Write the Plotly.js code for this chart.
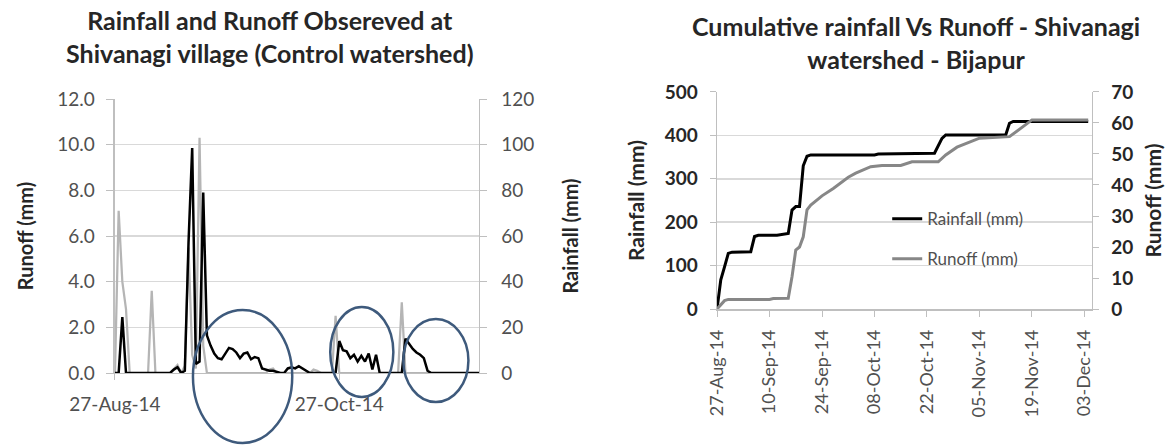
<!DOCTYPE html>
<html>
<head>
<meta charset="utf-8">
<script src="https://cdn.plot.ly/plotly-3.0.1.min.js"></script>
<style>
  html, body { margin: 0; padding: 0; background: #ffffff; }
  #chart { width: 1172px; height: 445px; }
</style>
</head>
<body>
<div id="chart"></div>
<script>
// ---- Daily observations, Shivanagi village (control watershed) ----
const runoffDates = [
  '2014-08-27','2014-08-28','2014-08-29','2014-08-30','2014-09-11','2014-09-12','2014-09-13','2014-09-14',
  '2014-09-15','2014-09-16','2014-09-17','2014-09-18','2014-09-19','2014-09-20','2014-09-21','2014-09-22',
  '2014-09-23','2014-09-24','2014-09-25','2014-09-26','2014-09-27','2014-09-28','2014-09-29','2014-09-30',
  '2014-10-01','2014-10-02','2014-10-03','2014-10-04','2014-10-05','2014-10-06','2014-10-07','2014-10-08',
  '2014-10-09','2014-10-10','2014-10-11','2014-10-12','2014-10-13','2014-10-14','2014-10-15','2014-10-16',
  '2014-10-17','2014-10-18','2014-10-19','2014-10-26','2014-10-27','2014-10-28','2014-10-29','2014-10-30',
  '2014-10-31','2014-11-01','2014-11-02','2014-11-03','2014-11-04','2014-11-05','2014-11-06','2014-11-07',
  '2014-11-13','2014-11-14','2014-11-15','2014-11-16','2014-11-17','2014-11-18','2014-11-19','2014-11-20',
  '2014-11-21','2014-12-04'
];
const runoffMm = [
  0, 0, 2.45, 0, 0, 0.15, 0.25, 0,
  0.1, 5.7, 9.85, 0.4, 0.5, 7.9, 1.65, 1.2,
  0.85, 0.65, 0.6, 0.85, 1.1, 1.05, 0.9, 0.65,
  0.85, 0.9, 0.6, 0.7, 0.65, 0.2, 0.15, 0.1,
  0.1, 0.05, 0, 0, 0.2, 0.25, 0.2, 0.3,
  0.2, 0.1, 0, 0, 1.4, 1.0, 0.95, 0.65,
  0.8, 0.5, 0.75, 0.5, 0.85, 0.15, 0.8, 0,
  0, 1.5, 1.25, 1.05, 0.9, 0.8, 0.65, 0.1,
  0, 0
];
const rainDates = [
  '2014-08-27','2014-08-28','2014-08-29','2014-08-30','2014-08-31','2014-09-05','2014-09-06','2014-09-07',
  '2014-09-11','2014-09-12','2014-09-13','2014-09-14','2014-09-15','2014-09-16','2014-09-17','2014-09-18',
  '2014-09-19','2014-09-20','2014-09-21','2014-10-07','2014-10-08','2014-10-09','2014-10-10','2014-10-19',
  '2014-10-20','2014-10-21','2014-10-22','2014-10-25','2014-10-26','2014-10-27','2014-11-12','2014-11-13',
  '2014-11-14','2014-12-04'
];
const rainMm = [
  0, 71, 40, 28, 0, 0, 36, 0,
  0, 2, 3.5, 0, 3, 55, 8, 2,
  103, 12, 0, 0, 1.5, 2, 0, 0,
  1.5, 1, 0, 0, 25, 0, 0, 31,
  0, 0
];
const leftTickDates = ['2014-08-27', '2014-10-27'];
const leftTickText = ['27-Aug-14', '27-Oct-14'];

// Periods of sustained base flow, ringed on the daily chart
const baseflowRings = [
  { start: '2014-09-17 05:00', end: '2014-10-14 05:00', bottom: 0.0045, top: 0.3034 },
  { start: '2014-10-24 13:00', end: '2014-11-10 17:00', bottom: 0.1079, top: 0.3101 },
  { start: '2014-11-13 10:00', end: '2014-12-01 03:00', bottom: 0.0966, top: 0.2831 }
];

// ---- Cumulative totals, Shivanagi watershed - Bijapur ----
const cumRainDates = [
  '2014-08-27','2014-08-28','2014-08-29','2014-08-30','2014-08-31','2014-09-05','2014-09-06','2014-09-07',
  '2014-09-12','2014-09-15','2014-09-16','2014-09-17','2014-09-18','2014-09-19','2014-09-20','2014-09-21',
  '2014-10-08','2014-10-09','2014-10-24','2014-10-26','2014-10-27','2014-11-12','2014-11-13','2014-11-14',
  '2014-12-04'
];
const cumRainMm = [
  0, 67, 97, 128, 131, 132, 167, 170,
  170, 174, 228, 236, 236, 330, 352, 355,
  355, 357, 359, 393, 401, 401, 428, 432,
  432
];
const cumRunoffDates = [
  '2014-08-27','2014-08-29','2014-08-30','2014-09-10','2014-09-11','2014-09-15','2014-09-16','2014-09-17',
  '2014-09-18','2014-09-19','2014-09-20','2014-09-21','2014-09-24','2014-09-27','2014-10-01','2014-10-03',
  '2014-10-07','2014-10-10','2014-10-15','2014-10-18','2014-10-25','2014-10-27','2014-10-30','2014-11-03',
  '2014-11-05','2014-11-13','2014-11-16','2014-11-19','2014-12-04'
];
const cumRunoffMm = [
  0, 2.7, 3.1, 3.1, 3.4, 3.5, 10.4, 19,
  20, 23.3, 32, 33.5, 36.5, 38.9, 42.5, 43.8,
  45.9, 46.3, 46.3, 47.5, 47.5, 49.7, 52.2, 54,
  55.1, 55.6, 58.3, 61, 61
];

const FONT = 'Lato, "Open Sans", sans-serif';
const TXT = '#505050';
const DARK = '#262626';
const AXIS = '#bfbfbf';
const GRID = '#d9d9d9';

const traces = [
  { x: rainDates, y: rainMm, xaxis: 'x', yaxis: 'y', type: 'scatter', mode: 'lines',
    line: { color: '#b5b5b5', width: 2.25 }, showlegend: false, hoverinfo: 'x+y' },
  { x: runoffDates, y: runoffMm, xaxis: 'x', yaxis: 'y2', type: 'scatter', mode: 'lines',
    line: { color: '#000000', width: 2.5 }, showlegend: false, hoverinfo: 'x+y' },
  { x: cumRainDates, y: cumRainMm, xaxis: 'x2', yaxis: 'y3', type: 'scatter', mode: 'lines',
    name: 'Rainfall (mm)', legendgroup: 'rain', line: { color: '#000000', width: 3 } },
  { x: cumRunoffDates, y: cumRunoffMm, xaxis: 'x2', yaxis: 'y4', type: 'scatter', mode: 'lines',
    name: 'Runoff (mm)', legendgroup: 'runoff', line: { color: '#878787', width: 3 } }
];

const shapes = baseflowRings.map(r => ({
  type: 'circle', xref: 'x', yref: 'paper', layer: 'above',
  x0: r.start, x1: r.end, y0: r.bottom, y1: r.top,
  line: { color: '#3e5a7c', width: 2.5 }, fillcolor: 'rgba(0,0,0,0)'
}));

const layout = {
  width: 1172, height: 445,
  margin: { l: 0, r: 0, t: 0, b: 0 },
  paper_bgcolor: '#ffffff', plot_bgcolor: 'rgba(0,0,0,0)',
  font: { family: FONT, color: TXT },
  showlegend: true,
  legend: {
    x: 0.757, y: 0.548, xanchor: 'left', yanchor: 'top',
    bgcolor: 'rgba(0,0,0,0)', tracegroupgap: 15,
    font: { family: FONT, size: 17, color: TXT }
  },
  // daily chart
  xaxis: {
    domain: [0.0981, 0.4087], anchor: 'y', type: 'date',
    range: ['2014-08-27', '2014-12-04'],
    tickmode: 'array', tickvals: leftTickDates, ticktext: leftTickText,
    ticks: 'outside', ticklen: 6, tickcolor: AXIS, ticklabelstandoff: 8,
    showline: true, linecolor: AXIS, linewidth: 1.5, showgrid: false, zeroline: false,
    tickfont: { family: FONT, size: 19, color: TXT }
  },
  yaxis: {
    domain: [0.1618, 0.7775], anchor: 'x', side: 'right',
    range: [0, 120], dtick: 20, tick0: 0,
    ticks: 'outside', ticklen: 7, tickcolor: AXIS, ticklabelstandoff: 10,
    showline: true, linecolor: AXIS, linewidth: 1.5, showgrid: false, zeroline: false,
    tickfont: { family: FONT, size: 19, color: TXT },
    title: { text: 'Rainfall (mm)', standoff: 30, font: { family: FONT, size: 20, weight: 'bold', color: DARK } }
  },
  yaxis2: {
    overlaying: 'y', anchor: 'x', side: 'left',
    range: [0, 12], dtick: 2, tick0: 0, tickformat: '.1f',
    ticks: 'outside', ticklen: 7, tickcolor: AXIS, ticklabelstandoff: 8,
    showline: true, linecolor: AXIS, linewidth: 1.5,
    showgrid: true, gridcolor: GRID, gridwidth: 1.5, zeroline: false,
    tickfont: { family: FONT, size: 19, color: TXT },
    title: { text: 'Runoff (mm)', standoff: 18, font: { family: FONT, size: 20, weight: 'bold', color: DARK } }
  },
  // cumulative chart
  xaxis2: {
    domain: [0.6118, 0.9317], anchor: 'y3', type: 'date',
    range: ['2014-08-27', '2014-12-05'],
    tick0: '2014-08-27', dtick: 14 * 86400000, tickformat: '%d-%b-%y', tickangle: -90,
    ticks: 'outside', ticklen: 6, tickcolor: AXIS, ticklabelstandoff: 6,
    showline: true, linecolor: AXIS, linewidth: 1.5, showgrid: false, zeroline: false,
    tickfont: { family: FONT, size: 18, color: TXT }
  },
  yaxis3: {
    domain: [0.3056, 0.7933], anchor: 'x2',
    range: [0, 500], dtick: 100, tick0: 0,
    ticks: 'outside', ticklen: 6, tickcolor: AXIS, ticklabelstandoff: 8,
    showline: true, linecolor: AXIS, linewidth: 1.5,
    showgrid: true, gridcolor: GRID, gridwidth: 1.5, zeroline: false,
    tickfont: { family: FONT, size: 19, weight: 'bold', color: DARK },
    title: { text: 'Rainfall (mm)', standoff: 14, font: { family: FONT, size: 21, weight: 'bold', color: DARK } }
  },
  yaxis4: {
    overlaying: 'y3', anchor: 'x2', side: 'right',
    range: [0, 70], dtick: 10, tick0: 0,
    ticks: 'outside', ticklen: 6, tickcolor: AXIS, ticklabelstandoff: 8,
    showline: true, linecolor: AXIS, linewidth: 1.5, showgrid: false, zeroline: false,
    tickfont: { family: FONT, size: 19, weight: 'bold', color: DARK },
    title: { text: 'Runoff (mm)', standoff: 14, font: { family: FONT, size: 21, weight: 'bold', color: DARK } }
  },
  annotations: [
    { text: 'Rainfall and Runoff Obsereved at<br>Shivanagi village (Control watershed)',
      xref: 'paper', yref: 'paper', x: 0.2304, y: 0.9169, xanchor: 'center', yanchor: 'middle',
      showarrow: false, font: { family: FONT, size: 25, weight: 'bold', color: DARK } },
    { text: 'Cumulative rainfall Vs Runoff - Shivanagi<br>watershed - Bijapur',
      xref: 'paper', yref: 'paper', x: 0.7816, y: 0.9034, xanchor: 'center', yanchor: 'middle',
      showarrow: false, font: { family: FONT, size: 25, weight: 'bold', color: DARK } }
  ],
  shapes: shapes
};

Plotly.newPlot('chart', traces, layout, { displayModeBar: false, staticPlot: true });
</script>
</body>
</html>
